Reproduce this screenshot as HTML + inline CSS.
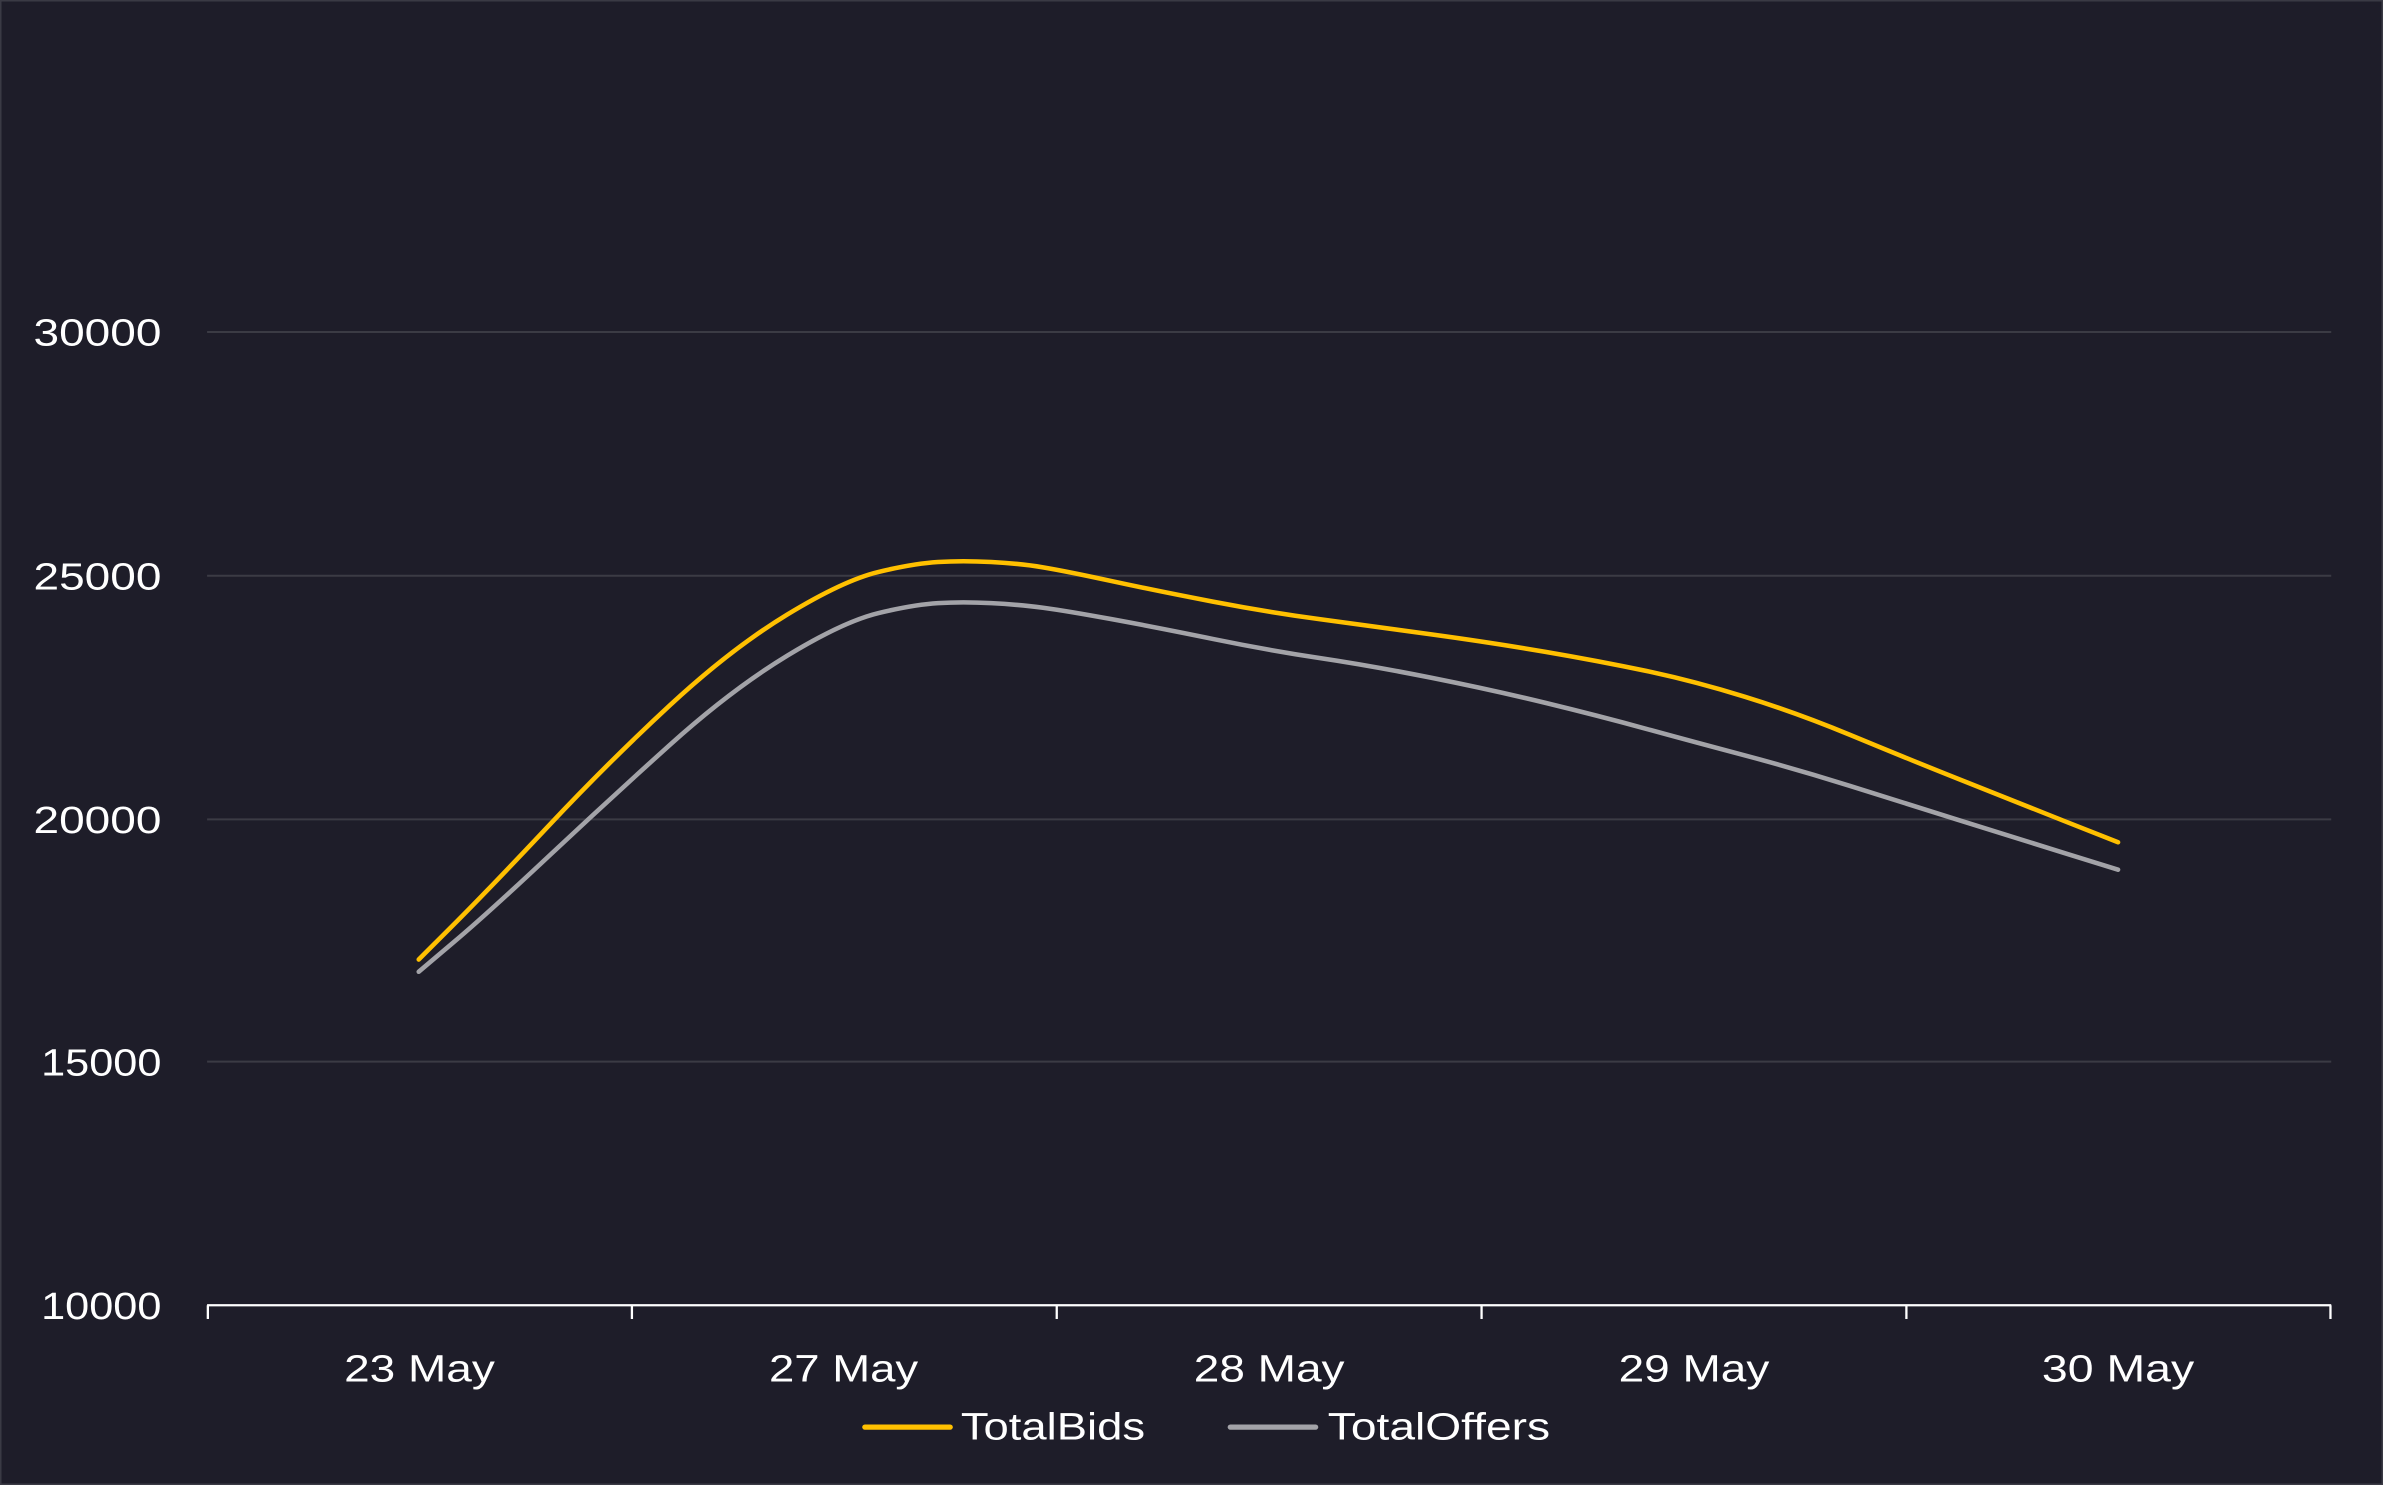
<!DOCTYPE html>
<html><head><meta charset="utf-8"><style>
html,body{margin:0;padding:0;background:#1e1d29;}
svg{display:block}
text{font-family:"Liberation Sans",sans-serif;fill:#ffffff;}
</style></head><body>
<svg width="2383" height="1485" viewBox="0 0 1565 975" preserveAspectRatio="none">
<rect x="0" y="0" width="1565" height="975" fill="#1e1d29"/>
<rect x="0.5" y="0.5" width="1564" height="974" fill="none" stroke="#3a3a44" stroke-width="1"/>
<g stroke="#3b3b44" stroke-width="1.3">
<line x1="136" y1="218" x2="1531" y2="218"/>
<line x1="136" y1="378" x2="1531" y2="378"/>
<line x1="136" y1="538" x2="1531" y2="538"/>
<line x1="136" y1="697" x2="1531" y2="697"/>
</g>
<g stroke="#ffffff" stroke-width="1.5">
<line x1="136" y1="857" x2="1531" y2="857"/>
<line x1="136.5" y1="857" x2="136.5" y2="866"/>
<line x1="415" y1="857" x2="415" y2="866"/>
<line x1="694" y1="857" x2="694" y2="866"/>
<line x1="973" y1="857" x2="973" y2="866"/>
<line x1="1252" y1="857" x2="1252" y2="866"/>
<line x1="1530.5" y1="857" x2="1530.5" y2="866"/>
</g>
<g font-size="25">
<text x="22" y="227" textLength="84" lengthAdjust="spacingAndGlyphs">30000</text>
<text x="22" y="387" textLength="84" lengthAdjust="spacingAndGlyphs">25000</text>
<text x="22" y="547" textLength="84" lengthAdjust="spacingAndGlyphs">20000</text>
<text x="27" y="706" textLength="79" lengthAdjust="spacingAndGlyphs">15000</text>
<text x="27" y="866" textLength="79" lengthAdjust="spacingAndGlyphs">10000</text>
</g>
<g font-size="25">
<text x="226" y="907" textLength="99" lengthAdjust="spacingAndGlyphs">23 May</text>
<text x="505" y="907" textLength="98" lengthAdjust="spacingAndGlyphs">27 May</text>
<text x="784" y="907" textLength="99" lengthAdjust="spacingAndGlyphs">28 May</text>
<text x="1063" y="907" textLength="99" lengthAdjust="spacingAndGlyphs">29 May</text>
<text x="1341" y="907" textLength="100" lengthAdjust="spacingAndGlyphs">30 May</text>
</g>
<path fill="none" stroke="#a3a3a8" stroke-width="3" stroke-linejoin="round" stroke-linecap="round"
d="M275,638 L297.5,619 Q320,600 360,562.5 Q400,525 440,489 Q480,453 517,430.5 Q554,408 577,402.5 Q600,397 616,396 Q632,395 651,396 Q670,397 685,399 Q700,401 730,406.5 Q760,412 796.5,419.5 Q833,427 866.5,432 Q900,437 940,445 Q980,453 1015,461.5 Q1050,470 1081,478.5 Q1112,487 1146,496 Q1180,505 1215,516 Q1250,527 1285,538 Q1320,549 1355.5,560 L1391,571"/>
<path fill="none" stroke="#ffc000" stroke-width="3" stroke-linejoin="round" stroke-linecap="round"
d="M275,630 L297.5,607.5 Q320,585 360,542.5 Q400,500 440,463 Q480,426 517,403.5 Q554,381 577,375.5 Q600,370 616,369 Q632,368 651,369 Q670,370 685,372.5 Q700,375 730,381.5 Q760,388 796.5,395 Q833,402 866.5,406.5 Q900,411 940,416.5 Q980,422 1015,428 Q1050,434 1081,440.5 Q1112,447 1146,457.5 Q1180,468 1215,482.5 Q1250,497 1285,511 Q1320,525 1355.5,539 L1391,553"/>
<line x1="568" y1="937" x2="624" y2="937" stroke="#ffc000" stroke-width="3.5" stroke-linecap="round"/>
<text x="631" y="945" font-size="25" textLength="121" lengthAdjust="spacingAndGlyphs">TotalBids</text>
<line x1="808" y1="937" x2="864" y2="937" stroke="#a3a3a8" stroke-width="3.5" stroke-linecap="round"/>
<text x="872" y="945" font-size="25" textLength="146" lengthAdjust="spacingAndGlyphs">TotalOffers</text>
</svg>
</body></html>
